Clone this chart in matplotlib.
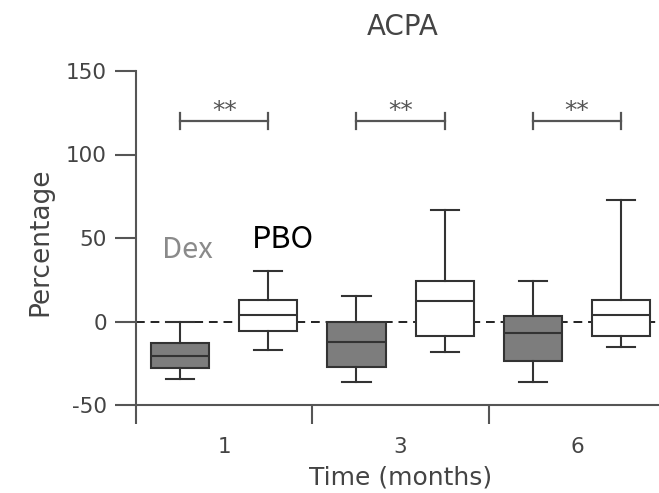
import matplotlib
matplotlib.use("Agg")
import matplotlib.pyplot as plt

plt.rcParams["axes.unicode_minus"] = False

# box statistics (percentage change)
months = ["1", "3", "6"]
dex_q1 = [-28, -27, -23.5]
dex_med = [-20.5, -12, -7]
dex_q3 = [-13, 0, 3]
dex_lo = [-34.5, -36.5, -36.5]
dex_hi = [0, 15, 24.5]

pbo_q1 = [-5.5, -8.5, -8.5]
pbo_med = [4, 12, 4]
pbo_q3 = [13, 24.5, 13]
pbo_lo = [-17, -18, -15]
pbo_hi = [30, 67, 72.5]

sig_y = 120
sig_label = "**"

dex_pos = [1, 3, 5]
pbo_pos = [2, 4, 6]

axis_col = "#555555"
text_col = "#444444"
font = "DejaVu Sans"

fig = plt.figure(figsize=(6.59, 4.93), dpi=100)
ax = fig.add_axes([136 / 659, 1 - 405 / 493, 1 - 136 / 659, (405 - 71) / 493])


def stats(q1, med, q3, lo, hi):
    return [
        {"q1": a, "med": b, "q3": c, "whislo": d, "whishi": e, "fliers": []}
        for a, b, c, d, e in zip(q1, med, q3, lo, hi)
    ]


# reference line at zero
ax.axhline(0, color="#222222", lw=1.4, ls=(0, (4.5, 3)), zorder=1)

line_kw = dict(color="#333333", linewidth=1.5)
ax.bxp(
    stats(dex_q1, dex_med, dex_q3, dex_lo, dex_hi),
    positions=dex_pos,
    widths=0.66,
    capwidths=0.32,
    patch_artist=True,
    boxprops=dict(facecolor="#7d7d7d", edgecolor="#333333", linewidth=1.5),
    medianprops=line_kw,
    whiskerprops=line_kw,
    capprops=line_kw,
    manage_ticks=False,
    zorder=3,
)
ax.bxp(
    stats(pbo_q1, pbo_med, pbo_q3, pbo_lo, pbo_hi),
    positions=pbo_pos,
    widths=0.66,
    capwidths=0.32,
    patch_artist=True,
    boxprops=dict(facecolor="white", edgecolor="#333333", linewidth=1.5),
    medianprops=line_kw,
    whiskerprops=line_kw,
    capprops=line_kw,
    manage_ticks=False,
    zorder=3,
)

# significance brackets
for a, b in zip(dex_pos, pbo_pos):
    ax.plot([a, b], [sig_y, sig_y], color="#555555", lw=1.6)
    ax.plot([a, a], [sig_y - 5, sig_y + 5], color="#555555", lw=1.6)
    ax.plot([b, b], [sig_y - 5, sig_y + 5], color="#555555", lw=1.6)
    ax.text((a + b) / 2, sig_y + 2, sig_label, ha="center", va="baseline",
            fontsize=18, color="#555555", fontname=font)

ax.text(0.8, 38, "Dex", fontsize=21, color="#8a8a8a", fontname="Noto Sans CJK JP",
        va="baseline")
ax.text(1.81, 44, "PBO", fontsize=22, color="black", fontname="Noto Sans CJK JP",
        va="baseline")

ax.set_xlim(0.5, 6.43)
ax.set_ylim(-50, 150)

ax.set_yticks([-50, 0, 50, 100, 150])
ax.set_xticks([1.5, 3.5, 5.5])
ax.set_xticklabels(months)
ax.set_xticks([0.5, 2.5, 4.5], minor=True)
ax.tick_params(axis="x", which="major", length=0, pad=23)
ax.tick_params(axis="x", which="minor", length=14, width=1.5, color=axis_col, direction="out")
ax.tick_params(axis="y", length=15, width=1.5, color=axis_col, pad=6)
for lab in ax.get_xticklabels() + ax.get_yticklabels():
    lab.set_fontname(font)
    lab.set_fontsize(15.5)
    lab.set_color(text_col)

for s in ["top", "right"]:
    ax.spines[s].set_visible(False)
for s in ["left", "bottom"]:
    ax.spines[s].set_color(axis_col)
    ax.spines[s].set_linewidth(1.5)

fig.text(401 / 659, 1 - 477 / 493, "Time (months)", ha="center", va="center",
         fontname=font, fontsize=18, color=text_col)
fig.text(40 / 659, 1 - 242 / 493, "Percentage", rotation=90, ha="center", va="center",
         fontname=font, fontsize=19, color=text_col)
fig.text(403 / 659, 1 - 27 / 493, "ACPA", ha="center", va="center", fontname=font,
         fontsize=20, color=text_col)

fig.savefig("out.png", dpi=100)
